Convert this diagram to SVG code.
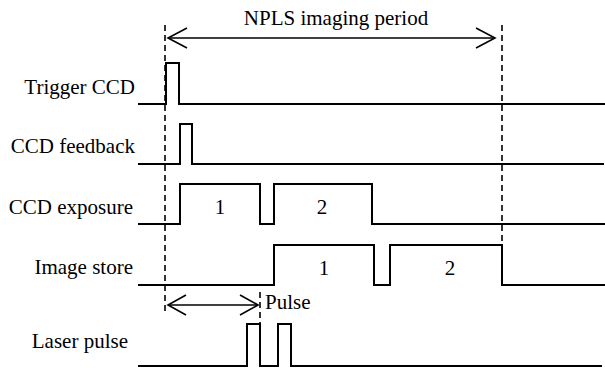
<svg xmlns="http://www.w3.org/2000/svg" width="605" height="372" viewBox="0 0 605 372">
<style>
.lbl{font-family:"Liberation Serif","Times New Roman",serif;font-size:21px;fill:#000}
.sig{fill:none;stroke:#000;stroke-width:2}
.dash{fill:none;stroke:#000;stroke-width:1.6;stroke-dasharray:6 4}
.arr{fill:none;stroke:#000;stroke-width:1.6}
</style>
<rect width="605" height="372" fill="#fff"/>
<g id="guides">
<line class="dash" x1="165" y1="25" x2="165" y2="314"/>
<line class="dash" x1="502" y1="25" x2="502" y2="244"/>
<line class="dash" x1="260" y1="292" x2="260" y2="366"/>
</g>
<g id="period-arrow">
<line class="arr" x1="168" y1="38" x2="495" y2="38"/>
<polyline class="arr" points="187,28 168,38 187,48"/>
<polyline class="arr" points="476,28 495,38 476,48"/>
<text class="lbl" x="336" y="25" text-anchor="middle">NPLS imaging period</text>
</g>
<g id="trigger">
<text class="lbl" x="135" y="94" text-anchor="end">Trigger CCD</text>
<path class="sig" d="M138 104 H166 V63 H179 V104 H605"/>
</g>
<g id="feedback">
<text class="lbl" x="135" y="153" text-anchor="end">CCD feedback</text>
<path class="sig" d="M138 164 H180 V124 H192 V164 H604"/>
</g>
<g id="exposure">
<text class="lbl" x="133" y="214" text-anchor="end">CCD exposure</text>
<path class="sig" d="M138 224 H180 V184 H260 V224 H274 V184 H372 V224 H605"/>
<text class="lbl" x="220" y="214" text-anchor="middle">1</text>
<text class="lbl" x="322" y="214" text-anchor="middle">2</text>
</g>
<g id="store">
<text class="lbl" x="133" y="274" text-anchor="end">Image store</text>
<path class="sig" d="M138 285 H274 V245 H374 V285 H390 V245 H502 V285 H605"/>
<text class="lbl" x="324" y="275" text-anchor="middle">1</text>
<text class="lbl" x="450" y="275" text-anchor="middle">2</text>
</g>
<g id="pulse-arrow">
<line class="arr" x1="168" y1="305" x2="258" y2="305"/>
<polyline class="arr" points="186,295 168,305 186,315"/>
<polyline class="arr" points="240,295 258,305 240,315"/>
<text class="lbl" x="265" y="309">Pulse</text>
</g>
<g id="laser">
<text class="lbl" x="128" y="348" text-anchor="end">Laser pulse</text>
<path class="sig" d="M138 366 H247 V324 H260 V366 H278 V324 H291 V366 H602"/>
</g>
</svg>
